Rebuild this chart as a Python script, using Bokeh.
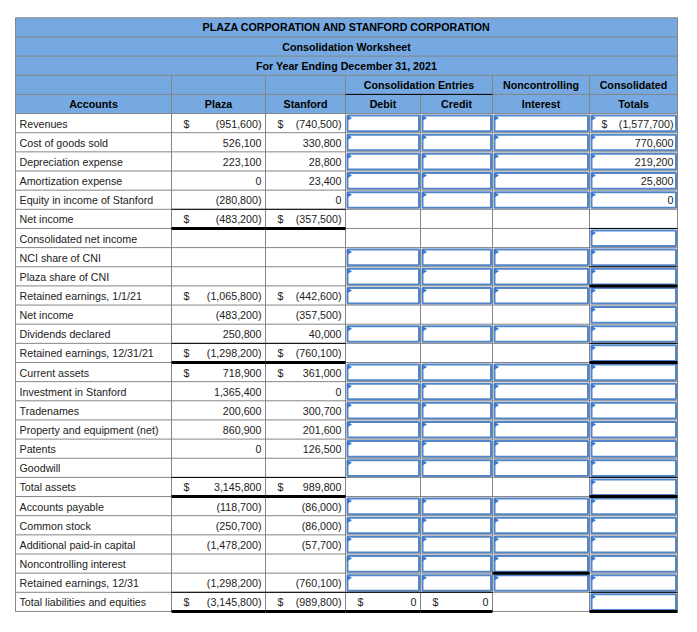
from bokeh.plotting import figure
from bokeh.models import Range1d
from bokeh.embed import file_html
from bokeh.resources import INLINE
from bokeh.core.properties import value

# ---------------- data ----------------
title_lines = ["PLAZA CORPORATION AND STANFORD CORPORATION",
               "Consolidation Worksheet",
               "For Year Ending December 31, 2021"]
group_headers = ["Consolidation Entries", "Noncontrolling", "Consolidated"]
col_headers = ["Accounts", "Plaza", "Stanford", "Debit", "Credit", "Interest", "Totals"]

accounts = ["Revenues", "Cost of goods sold", "Depreciation expense", "Amortization expense",
            "Equity in income of Stanford", "Net income", "Consolidated net income",
            "NCI share of CNI", "Plaza share of CNI", "Retained earnings, 1/1/21", "Net income",
            "Dividends declared", "Retained earnings, 12/31/21", "Current assets",
            "Investment in Stanford", "Tradenames", "Property and equipment (net)", "Patents",
            "Goodwill", "Total assets", "Accounts payable", "Common stock",
            "Additional paid-in capital", "Noncontrolling interest", "Retained earnings, 12/31",
            "Total liabilities and equities"]
plaza = [-951600, 526100, 223100, 0, -280800, -483200, None, None, None, -1065800, -483200,
         250800, -1298200, 718900, 1365400, 200600, 860900, 0, None, 3145800, -118700,
         -250700, -1478200, None, -1298200, -3145800]
stanford = [-740500, 330800, 28800, 23400, 0, -357500, None, None, None, -442600, -357500,
            40000, -760100, 361000, 0, 300700, 201600, 126500, None, 989800, -86000,
            -86000, -57700, None, -760100, -989800]
consolidated = [-1577700, 770600, 219200, 25800, 0] + [None] * 21
debit_total = 0
credit_total = 0
dollar_rows = [1, 6, 10, 13, 14, 20, 26]          # 1-based rows with "$" in Plaza/Stanford
entry_input_rows = [1, 2, 3, 4, 5, 8, 9, 10, 12, 14, 15, 16, 17, 18, 19, 21, 22, 23, 24, 25]
total_input_rows = [r for r in range(1, 27) if r != 6]
# (row, columns, top thin line, bottom thick line)
rule_rows = [(6, [1, 2], True, True), (7, [6], True, False), (9, [6], True, True),
             (13, [1, 2, 6], True, True), (20, [1, 2, 6], True, True),
             (24, [5], False, True), (26, [1, 2, 3, 4, 6], True, True)]

# ---------------- layout ----------------
col_edges = [15, 171, 265, 345, 420, 492, 589, 677]
TOP = 17.3
RH = 19.15
N_HEAD = 5
HEAD_BG = "#76A9E1"
GRID = "#858585"
BOX = "#5286C8"
TRI = "#3B78D4"
FONT = value("Liberation Sans")
FS = "10.7px"
TXT = "#222222"


def fmt(v):
    if v is None:
        return ""
    s = f"{abs(v):,}"
    return f"({s})" if v < 0 else s


def row_top(k):
    return TOP + k * RH


p = figure(width=681, height=616, x_range=Range1d(0, 681), y_range=Range1d(616, 0),
           output_backend="svg", toolbar_location=None, x_axis_location=None,
           y_axis_location=None, min_border=0, outline_line_color=None)
p.xgrid.visible = False
p.ygrid.visible = False

left, right = col_edges[0], col_edges[-1]
n_rows = N_HEAD + len(accounts)
bottom = row_top(n_rows)

# header background
p.quad(left=[left], right=[right], top=[row_top(0)], bottom=[row_top(N_HEAD)],
       fill_color=HEAD_BG, line_color=None)

# input boxes
bl, br, bt, bb = [], [], [], []
tx, ty = [], []
for r in range(1, len(accounts) + 1):
    cols = []
    if r in entry_input_rows:
        cols += [3, 4, 5]
    if r in total_input_rows:
        cols += [6]
    for c in cols:
        x0, x1 = col_edges[c], col_edges[c + 1]
        y0 = row_top(N_HEAD + r - 1)
        y1 = y0 + RH
        bl.append(x0 + 2); br.append(x1 - 1.5); bt.append(y0 + 2); bb.append(y1 - 1.5)
        tx.append([x0 + 1.5, x0 + 1.5, x0 + 6.5]); ty.append([y0 + 1.5, y0 + 7.5, y0 + 4.5])
p.quad(left=bl, right=br, top=bt, bottom=bb, fill_color="white", line_color=BOX, line_width=2)

# grid: horizontal lines
hx0, hx1, hy = [], [], []
for k in range(n_rows + 1):
    hx0.append(left); hx1.append(right); hy.append(row_top(k))
p.segment(x0=hx0, y0=hy, x1=hx1, y1=hy, line_color=GRID, line_width=1)
# grid: vertical lines
vx, vy0, vy1 = [], [], []
for i, e in enumerate(col_edges):
    if i in (0, len(col_edges) - 1):
        start = row_top(0)
    elif i == 4:
        start = row_top(4)
    else:
        start = row_top(3)
    vx.append(e); vy0.append(start); vy1.append(bottom)
p.segment(x0=vx, y0=vy0, x1=vx, y1=vy1, line_color=GRID, line_width=1)

# black line under "Consolidation Entries"
p.segment(x0=[col_edges[3]], y0=[row_top(4)], x1=[col_edges[5]], y1=[row_top(4)],
          line_color="black", line_width=1)

# triangles
p.patches(xs=tx, ys=ty, fill_color=TRI, line_color=None)

# accounting rules
thin_x0, thin_x1, thin_y, thick_x0, thick_x1, thick_y = [], [], [], [], [], []
for r, cols, top_rule, bot_rule in rule_rows:
    y0 = row_top(N_HEAD + r - 1)
    for c in cols:
        if top_rule:
            thin_x0.append(col_edges[c]); thin_x1.append(col_edges[c + 1]); thin_y.append(y0)
        if bot_rule:
            thick_x0.append(col_edges[c]); thick_x1.append(col_edges[c + 1]); thick_y.append(y0 + RH)
p.segment(x0=thin_x0, y0=thin_y, x1=thin_x1, y1=thin_y, line_color="black", line_width=1)
p.segment(x0=thick_x0, y0=thick_y, x1=thick_x1, y1=thick_y, line_color="black", line_width=3)

# ---------------- header texts ----------------
cx = (left + right) / 2
p.text(x=[cx] * 3, y=[row_top(k) + RH / 2 for k in range(3)], text=title_lines,
       text_align="center", text_baseline="middle", text_font=FONT, text_font_size=FS,
       text_font_style="bold", text_color="black")
gx = [(col_edges[3] + col_edges[5]) / 2, (col_edges[5] + col_edges[6]) / 2,
      (col_edges[6] + col_edges[7]) / 2]
p.text(x=gx, y=[row_top(3) + RH / 2] * 3, text=group_headers, text_align="center",
       text_baseline="middle", text_font=FONT, text_font_size=FS, text_font_style="bold",
       text_color="black")
hx = [(col_edges[i] + col_edges[i + 1]) / 2 for i in range(7)]
p.text(x=hx, y=[row_top(4) + RH / 2] * 7, text=col_headers, text_align="center",
       text_baseline="middle", text_font=FONT, text_font_size=FS, text_font_style="bold",
       text_color="black")

# ---------------- body texts ----------------
ry = [row_top(N_HEAD + i) + RH / 2 + 0.5 for i in range(len(accounts))]
p.text(x=[left + 4] * len(accounts), y=ry, text=accounts, text_align="left",
       text_baseline="middle", text_font=FONT, text_font_size=FS, text_color=TXT)

vx_, vy_, vt_ = [], [], []
dx_, dy_ = [], []
for i in range(len(accounts)):
    for c, series in ((1, plaza), (2, stanford), (6, consolidated)):
        v = series[i]
        if v is not None:
            vx_.append(col_edges[c + 1] - 4); vy_.append(ry[i]); vt_.append(fmt(v))
    if (i + 1) in dollar_rows:
        for c in (1, 2):
            dx_.append(col_edges[c] + 12); dy_.append(ry[i])
    if consolidated[i] is not None and i == 0:
        dx_.append(col_edges[6] + 12); dy_.append(ry[i])
last = len(accounts) - 1
for c, v in ((3, debit_total), (4, credit_total)):
    vx_.append(col_edges[c + 1] - 4); vy_.append(ry[last]); vt_.append(fmt(v))
    dx_.append(col_edges[c] + 12); dy_.append(ry[last])

p.text(x=vx_, y=vy_, text=vt_, text_align="right", text_baseline="middle", text_font=FONT,
       text_font_size=FS, text_color=TXT)
p.text(x=dx_, y=dy_, text=["$"] * len(dx_), text_align="left", text_baseline="middle",
       text_font=FONT, text_font_size=FS, text_color=TXT)

open("out.html", "w").write(file_html(p, INLINE))
